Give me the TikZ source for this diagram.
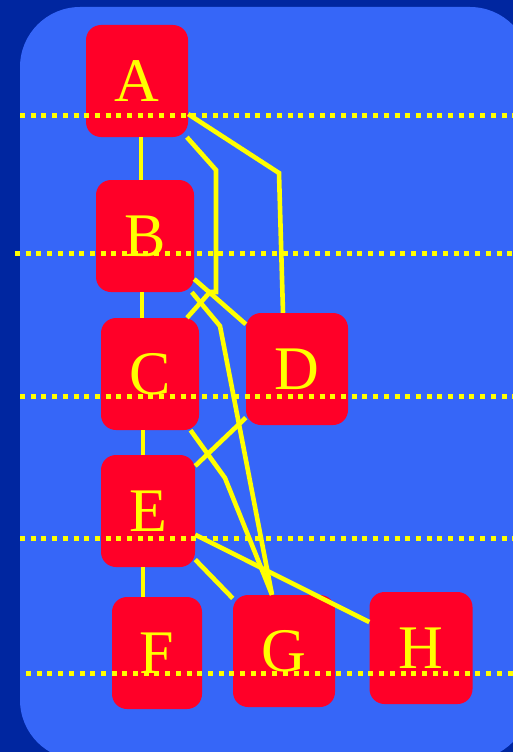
\documentclass[tikz,border=0pt]{standalone}
\usepackage{fontspec}
\setmainfont{Liberation Serif}
\definecolor{darkbg}{RGB}{0,38,160}
\definecolor{panel}{RGB}{54,102,248}
\definecolor{nodered}{RGB}{255,0,40}
\definecolor{lineyellow}{RGB}{255,255,0}
\begin{document}
\begin{tikzpicture}[x=1pt,y=-1pt,
  box/.style={draw=none,fill=nodered,rounded corners=15pt,minimum height=112pt,inner sep=0pt,
    text=lineyellow,font=\fontsize{62}{62}\selectfont},
  wire/.style={draw=lineyellow,line width=4.6pt,line join=miter},
  level/.style={draw=lineyellow,line width=5pt,dash pattern=on 5pt off 5.7pt}]
\useasboundingbox (0,0) rectangle (513,752);
\fill[darkbg] (0,0) rectangle (513,752);
\fill[panel,rounded corners=60pt] (20,7) rectangle (530,760);
% nodes
\node[box,minimum width=102pt] (A) at (137,81) {A};
\node[box,minimum width=98pt] (B) at (145,236) {B};
\node[box,minimum width=98pt] (C) at (150,374) {C};
\node[box,minimum width=102pt] (D) at (297,369) {D};
\node[box,minimum width=94pt] (E) at (148,511) {E};
\node[box,minimum width=90pt] (F) at (157,653) {F};
\node[box,minimum width=102pt] (G) at (284,651) {G};
\node[box,minimum width=103pt] (H) at (421,648) {H};
% bend points
\coordinate (ac1) at (216,170);
\coordinate (ac2) at (216,292);
\coordinate (ac3) at (210,292);
\coordinate (ad1) at (279,173);
\coordinate (bg1) at (220,326);
\coordinate (cg1) at (225,478);
% edges
\draw[wire] ([xshift=4pt]A.south) -- ([xshift=-4pt]B.north);
\draw[wire] ([xshift=-3pt]B.south) -- ([xshift=-8pt]C.north);
\draw[wire] ([xshift=-7pt]C.south) -- ([xshift=-5pt]E.north);
\draw[wire] ([xshift=-5pt]E.south) -- ([xshift=-14pt]F.north);
\draw[wire] (A) -- (ac1) -- (ac2) -- (ac3) -- ([xshift=37pt]C.north);
\draw[wire] (A) -- (ad1) -- ([xshift=-14pt]D.north);
\draw[wire] (B) -- (D);
\draw[wire] (B) -- (bg1) -- ([xshift=-12pt]G.north);
\draw[wire] (C) -- (cg1) -- ([xshift=-12pt]G.north);
\draw[wire] (E) -- (D);
\draw[wire] (E) -- (G);
\draw[wire] (E) -- (H);
% dotted levels
\draw[level] (20,115) -- (513,115);
\draw[level] (15,253) -- (513,253);
\draw[level] (20,396) -- (513,396);
\draw[level] (20,538) -- (513,538);
\draw[level] (26,673) -- (513,673);
\end{tikzpicture}
\end{document}
